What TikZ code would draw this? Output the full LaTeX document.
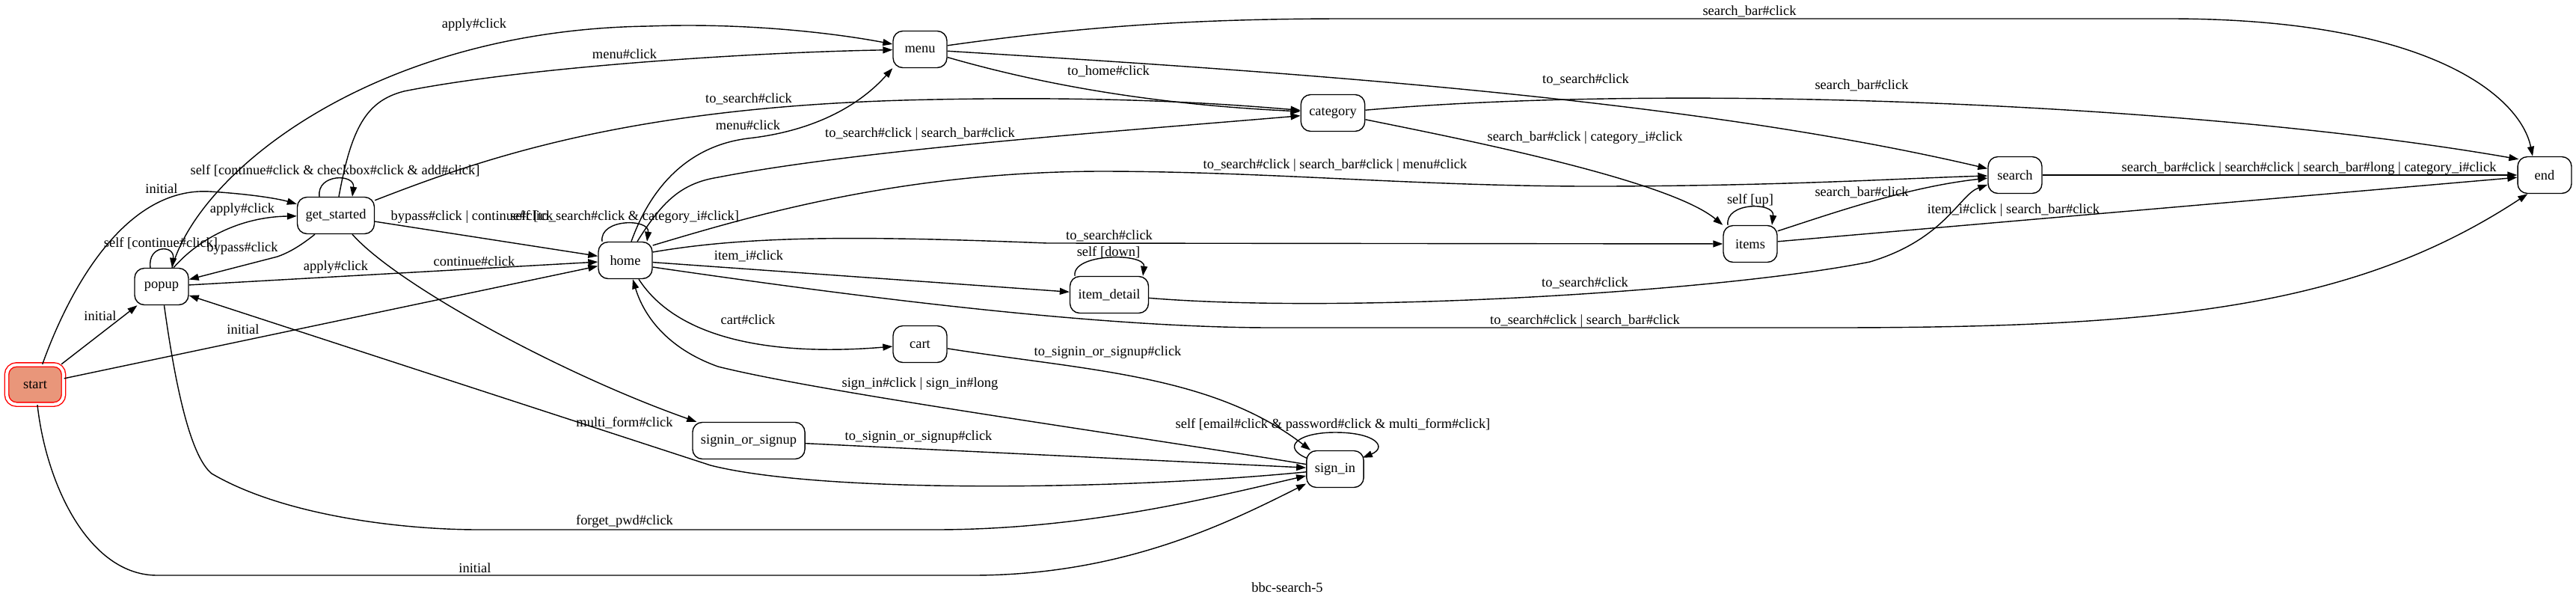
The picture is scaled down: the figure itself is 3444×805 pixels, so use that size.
\documentclass[tikz,border=0pt]{standalone}
\usepackage{fontspec}
\setmainfont{Liberation Serif}
\usepackage{xcolor}
\usetikzlibrary{calc}
\usetikzlibrary{arrows.meta}
\definecolor{startfill}{HTML}{E9967A}

\begin{document}
\begin{tikzpicture}[x=0.02cm,y=-0.02cm,
  font=\fontsize{10.5}{12}\selectfont,
  stnode/.style={draw,rounded corners=0.26cm,minimum width=1.44cm,minimum height=0.98cm,inner xsep=0.22cm,line width=0.8pt},
  startnode/.style={stnode,draw=red,fill=startfill,double=white,double distance=0.08cm,minimum width=1.52cm,minimum height=1.06cm},
  trans/.style={line width=0.8pt,-{Triangle[length=0.26cm,width=0.18cm]}},
  lbl/.style={inner sep=0pt}]
\useasboundingbox (0,0) rectangle (3444,805);

% states
\node[startnode] (start) at (47,514) {start};
\node[stnode] (popup) at (216,383) {popup};
\node[stnode] (getstarted) at (449,288) {get\_started};
\node[stnode] (home) at (836,348) {home};
\node[stnode] (menu) at (1230,66) {menu};
\node[stnode] (category) at (1782,151) {category};
\node[stnode] (search) at (2694,234) {search};
\node[stnode] (items) at (2340,326) {items};
\node[stnode] (itemdetail) at (1483,394) {item\_detail};
\node[stnode] (cart) at (1230,460) {cart};
\node[stnode] (signinup) at (1001,589) {signin\_or\_signup};
\node[stnode] (signin) at (1785,627) {sign\_in};
\node[stnode] (final) at (3402,234) {end};

% from start
\draw[trans] (start) -- (popup);
\node[lbl] (lstartpopup) at (134,422) {initial};
\draw[trans] (start) .. controls (95,380) and (170,250) .. (280,256) .. controls (330,259) and (370,265) .. (getstarted);
\node[lbl] (lstartgs) at (216,252) {initial};
\draw[trans] (start) -- (home);
\node[lbl] (lstarthome) at (325,440) {initial};
\draw[trans] (start) .. controls (62,650) and (120,769) .. (210,769) -- (1300,769) .. controls (1500,769) and (1640,700) .. (signin);
\node[lbl] (lstartsignin) at (635,759) {initial};

% popup
\draw[trans] ($(popup.north)+(-15,0)$) .. controls +(-4,-31) and +(4,-31) .. ($(popup.north)+(14,0)$);
\node[lbl] (lpopupself) at (215,325) {self [continue\#click]};
\draw[trans] ($(popup.north)+(16,0)$) .. controls (265,320) and (320,290) .. (getstarted);
\node[lbl] (lpopupgs) at (324,280) {apply\#click};
\draw[trans] (popup) -- (home);
\node[lbl] (lpopuphome) at (449,357) {apply\#click};
\node[lbl] (lpopuphome2) at (634,349) {continue\#click};
\draw[trans] ($(popup.north)+(14,0)$) .. controls (265,230) and (500,40) .. (867,35) .. controls (1000,30) and (1120,45) .. (menu);
\node[lbl] (lpopupmenu) at (634,33) {apply\#click};
\draw[trans] (popup) .. controls (235,520) and (255,610) .. (283,633) .. controls (380,690) and (540,708) .. (640,708) -- (1250,708) .. controls (1450,708) and (1620,665) .. (signin);
\node[lbl] (lpopupsignin) at (835,697) {forget\_pwd\#click};

% get_started
\draw[trans] ($(getstarted.north)+(-22,0)$) .. controls +(-4,-31) and +(4,-31) .. ($(getstarted.north)+(22,0)$);
\node[lbl] (lgsself) at (448,228) {self [continue\#click \& checkbox\#click \& add\#click]};
\draw[trans] ($(getstarted.south)+(-28,0)$) .. controls (400,330) and (385,338) .. (371,343) -- (popup);
\node[lbl] (lgspopup) at (324,332) {bypass\#click};
\draw[trans] ($(getstarted.north)+(4,0)$) .. controls (470,170) and (490,135) .. (540,122) .. controls (700,90) and (1000,70) .. (menu);
\node[lbl] (lgsmenu) at (835,72) {menu\#click};
\draw[trans] (getstarted) .. controls (650,210) and (850,140) .. (1250,133) .. controls (1500,128) and (1650,140) .. (category);
\node[lbl] (lgscategory) at (1001,132) {to\_search\#click};
\draw[trans] (getstarted) -- (home);
\node[lbl] (lgshome) at (631,290) {bypass\#click | continue\#click};
\draw[trans] ($(getstarted.south)+(22,0)$) .. controls (530,380) and (750,500) .. ($(signinup.north west)+(6,0)$);

% home
\draw[trans] ($(home.north)+(-31,0)$) .. controls +(-4,-31) and +(4,-31) .. ($(home.north)+(29,0)$);
\node[lbl] (lhomeself) at (835,290) {self [to\_search\#click \& category\_i\#click]};
\draw[trans] ($(home.north)+(8,0)$) .. controls (870,250) and (920,195) .. (1000,185) .. controls (1090,175) and (1150,140) .. (menu.south west);
\node[lbl] (lhomemenu) at (1000,167) {menu\#click};
\draw[trans] ($(home.north)+(16,0)$) .. controls (885,270) and (910,245) .. (960,237) .. controls (1150,200) and (1500,175) .. (category);
\node[lbl] (lhomecategory) at (1230,179) {to\_search\#click | search\_bar\#click};
\draw[trans] ($(home.east)+(0,-20)$) .. controls (1000,290) and (1200,230) .. (1470,229) .. controls (1700,229) and (1900,250) .. (2150,249) .. controls (2400,248) and (2550,238) .. (search);
\node[lbl] (lhomesearch) at (1785,221) {to\_search\#click | search\_bar\#click | menu\#click};
\draw[trans] ($(home.east)+(0,-11)$) .. controls (1000,315) and (1150,315) .. (1400,325) -- (items);
\node[lbl] (lhomeitems) at (1483,315) {to\_search\#click};
\draw[trans] (home) -- (itemdetail);
\node[lbl] (lhomedetail) at (1001,342) {item\_i\#click};
\draw[trans] ($(home.east)+(0,9)$) .. controls (1100,390) and (1450,438) .. (1700,438) -- (2450,438) .. controls (2900,438) and (3150,410) .. ($(final.south west)+(14,0)$);
\node[lbl] (lhomeend) at (2119,429) {to\_search\#click | search\_bar\#click};
\draw[trans] ($(home.south)+(18,0)$) .. controls (910,460) and (1050,475) .. (cart);
\node[lbl] (lhomecart) at (1000,427) {cart\#click};

% menu, category
\draw[trans] (menu) .. controls (1450,35) and (1600,25) .. (1800,25) -- (2900,25) .. controls (3250,25) and (3370,130) .. ($(final.north)+(-16,0)$);
\node[lbl] (lmenuend) at (2339,15) {search\_bar\#click};
\draw[trans] (menu) .. controls (1400,115) and (1550,140) .. (category);
\node[lbl] (lmenucategory) at (1482,95) {to\_home\#click};
\draw[trans] (menu) .. controls (1700,95) and (2250,130) .. (search);
\node[lbl] (lmenusearch) at (2120,106) {to\_search\#click};
\draw[trans] (category) .. controls (2250,110) and (2950,140) .. ($(final.north west)+(2,4)$);
\node[lbl] (lcategoryend) at (2489,114) {search\_bar\#click};
\draw[trans] (category) .. controls (1950,185) and (2230,240) .. (items.north west);
\node[lbl] (lcategoryitems) at (2119,184) {search\_bar\#click | category\_i\#click};

% items, item_detail, search
\draw[trans] ($(items.north)+(-30,0)$) .. controls +(-4,-31) and +(4,-31) .. ($(items.north)+(29,0)$);
\node[lbl] (litemsself) at (2340,268) {self [up]};
\draw[trans] ($(items.north east)+(0,8)$) .. controls (2450,285) and (2550,250) .. (search);
\node[lbl] (litemssearch) at (2489,257) {search\_bar\#click};
\draw[trans] (items) -- (final);
\node[lbl] (litemsend) at (2692,281) {item\_i\#click | search\_bar\#click};
\draw[trans] ($(itemdetail.north)+(-46,0)$) .. controls +(-4,-31) and +(4,-31) .. ($(itemdetail.north)+(45,0)$);
\node[lbl] (ldetailself) at (1482,337) {self [down]};
\draw[trans] (itemdetail) .. controls (1800,420) and (2300,390) .. (2500,350) .. controls (2600,320) and (2620,260) .. (search);
\node[lbl] (ldetailsearch) at (2119,378) {to\_search\#click};
\draw[trans] (search) -- (final);
\node[lbl] (lsearchend) at (3087,225) {search\_bar\#click | search\#click | search\_bar\#long | category\_i\#click};

% cart, sign in
\draw[trans] (cart) .. controls (1450,495) and (1620,500) .. ($(signin.north west)+(6,0)$);
\node[lbl] (lcartsignin) at (1481,471) {to\_signin\_or\_signup\#click};
\draw[trans] (signinup) -- (signin);
\node[lbl] (lupsignin) at (1228,584) {to\_signin\_or\_signup\#click};
\draw[trans] ($(signin.north west)+(2,11)$) .. controls (1712,598) and (1735,578) .. (1785,578) .. controls (1840,578) and (1855,598) .. ($(signin.north east)+(-2,10)$);
\node[lbl] (lsigninself) at (1782,568) {self [email\#click \& password\#click \& multi\_form\#click]};
\draw[trans] (signin) .. controls (1500,580) and (1100,525) .. (960,490) .. controls (890,465) and (860,420) .. ($(home.south)+(10,0)$);
\node[lbl] (lsigninhome) at (1230,513) {sign\_in\#click | sign\_in\#long};
\draw[trans] (signin) .. controls (1500,655) and (1100,660) .. (950,622) -- (popup);
\node[lbl] (lsigninpopup) at (835,565) {multi\_form\#click};

\node (title) at (1721,785) {bbc-search-5};
\end{tikzpicture}
\end{document}
